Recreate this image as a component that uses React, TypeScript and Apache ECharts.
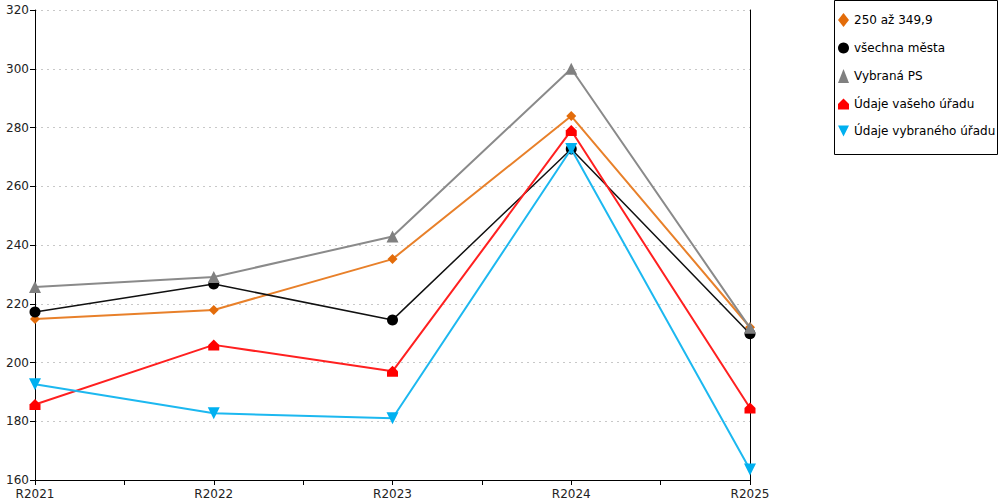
import React, { useEffect, useRef } from "react";
import * as echarts from "echarts";

const categories = ["R2021", "R2022", "R2023", "R2024", "R2025"];
const seriesNames = ["250 až 349,9", "všechna města", "Vybraná PS", "Údaje vašeho úřadu", "Údaje vybraného úřadu"];
const orangeValues = [214.8, 217.9, 235.2, 283.9, 212.0];
const blackValues = [217.2, 226.7, 214.5, 272.7, 209.8];
const grayValues = [225.7, 229.1, 242.9, 300.0, 211.8];
const redValues = [185.7, 206.0, 197.0, 279.0, 184.5];
const blueValues = [192.6, 182.7, 181.0, 272.7, 163.6];
const yTicks = [160, 180, 200, 220, 240, 260, 280, 300, 320];

const colors = ["#E36C0A", "#000000", "#808080", "#FF0000", "#00B0F0"];
const lineColors = ["#E8802A", "#111111", "#8A8A8A", "#FF2020", "#1CB8F0"];
const symbols = [
  "diamond",
  "circle",
  "triangle",
  "path://M0,5 L5,0 L10,5 L10,10 L0,10 Z",
  "path://M0,0 L10,0 L5,10 Z",
];
const symbolSizes = [10, 11, 12, 11, 12];
const legendSizes = [10, 11, 12, 11, 12];
const allValues = [orangeValues, blackValues, grayValues, redValues, blueValues];

const FONT = "DejaVu Sans";

export default function App() {
  const ref = useRef<HTMLDivElement>(null);
  useEffect(() => {
    const chart = echarts.init(ref.current!, null, { renderer: "svg" });
    const option: any = {
      animation: false,
      textStyle: { fontFamily: FONT },
      grid: { left: 35, right: 250, top: 10, bottom: 20, containLabel: false },
      xAxis: {
        type: "value",
        min: 0,
        max: categories.length - 1,
        interval: 0.5,
        axisLine: { show: true, lineStyle: { color: "#000", width: 1 } },
        axisTick: { show: true, length: 5, lineStyle: { color: "#000" } },
        splitLine: { show: false },
        axisLabel: {
          color: "#222",
          fontSize: 12,
          fontFamily: FONT,
          margin: 8,
          formatter: (v: number) => (Number.isInteger(v) ? categories[v] : ""),
        },
      },
      yAxis: [
        {
          type: "value",
          min: yTicks[0],
          max: yTicks[yTicks.length - 1],
          interval: 20,
          axisLine: { show: true, lineStyle: { color: "#000", width: 1 } },
          axisTick: { show: true, length: 5, lineStyle: { color: "#000" } },
          axisLabel: { color: "#222", fontSize: 12, fontFamily: FONT, margin: 6 },
          splitLine: { show: true, lineStyle: { color: "#c8c8c8", type: [2, 4], width: 1 } },
        },
        {
          type: "value",
          position: "right",
          min: yTicks[0],
          max: yTicks[yTicks.length - 1],
          interval: 20,
          axisLine: { show: true, lineStyle: { color: "#000", width: 1 } },
          axisTick: { show: false },
          axisLabel: { show: false },
          splitLine: { show: false },
        },
      ],
      legend: {
        orient: "vertical",
        left: 838,
        top: 13,
        itemWidth: 11,
        itemHeight: 14,
        itemGap: 15,
        padding: 0,
        textStyle: { fontSize: 12, fontFamily: FONT, color: "#000" },
        data: seriesNames.map((n, i) => ({ name: n, icon: symbols[i] })),
      },
      graphic: [
        {
          type: "rect",
          shape: { x: 834.5, y: 0.5, width: 163, height: 154 },
          style: { fill: "none", stroke: "#000", lineWidth: 1 },
          silent: true,
        },
      ],
      series: seriesNames.map((name, i) => ({
        name,
        type: "line",
        data: allValues[i].map((v, k) => [k, v]),
        symbol: symbols[i],
        symbolSize: symbolSizes[i],
        showAllSymbol: true,
        lineStyle: { color: lineColors[i], width: i === 1 ? 1.5 : 2 },
        itemStyle: { color: colors[i] },
        z: 2 + i,
      })),
    };
    chart.setOption(option);
    return () => chart.dispose();
  }, []);
  return <div ref={ref} style={{ width: 1000, height: 500, position: "absolute", left: 0, top: 0 }} />;
}
